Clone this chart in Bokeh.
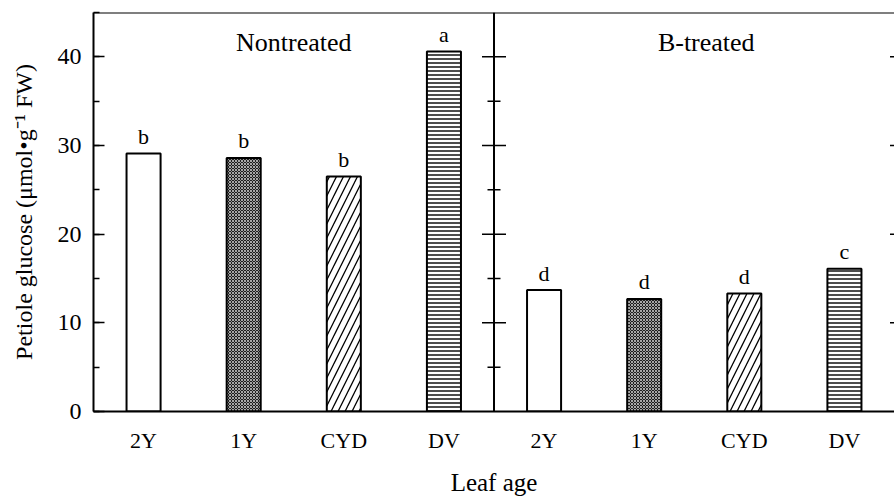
from bokeh.plotting import figure
from bokeh.models import (FactorRange, Range1d, SingleIntervalTicker,
                          Span, ColumnDataSource)
from bokeh.core.properties import value
from bokeh.embed import file_html
from bokeh.resources import INLINE

# ---- data ----
treatments = ["Nontreated", "B-treated"]
leaf_ages = ["2Y", "1Y", "CYD", "DV"]
nontreated = [29.1, 28.6, 26.5, 40.6]
b_treated = [13.7, 12.7, 13.3, 16.1]
letters_nontreated = ["b", "b", "b", "a"]
letters_b_treated = ["d", "d", "d", "c"]
y_ticks = [0, 10, 20, 30, 40]
y_minor_ticks = [5, 15, 25, 35]

FONT = "Liberation Serif"

factors = [(t, a) for t in treatments for a in leaf_ages]
values = nontreated + b_treated
letters = letters_nontreated + letters_b_treated
ages = leaf_ages * len(treatments)

src = ColumnDataSource(dict(x=factors, top=values, letter=letters, age=ages))

p = figure(width=894, height=498,
           x_range=FactorRange(*factors, range_padding=0, group_padding=0,
                               factor_padding=0, subgroup_padding=0),
           y_range=Range1d(0, 45),
           output_backend="svg", toolbar_location=None,
           min_border_left=93, min_border_right=0,
           min_border_top=12, min_border_bottom=87)

p.outline_line_color = None
p.xgrid.visible = False
p.ygrid.visible = False
p.background_fill_color = "white"
p.border_fill_color = "white"

# synthetic x coordinates of the panel divider and the right frame edge
n_per_panel = len(leaf_ages)
divider_x = float(n_per_panel)
right_x = float(n_per_panel * len(treatments))
title_x = [n_per_panel / 2, n_per_panel * 1.5]

# bar styles per leaf age
styles = {
    "2Y": dict(fill_color="white"),
    "1Y": dict(fill_color="#1e1e1e", hatch_pattern="diagonal_cross",
               hatch_color="#a8a8a8", hatch_scale=3, hatch_weight=1),
    "CYD": dict(fill_color="white", hatch_pattern="right_diagonal_line",
                hatch_color="black", hatch_scale=14, hatch_weight=1.3),
    "DV": dict(fill_color="white", hatch_pattern="horizontal_line",
               hatch_color="black", hatch_scale=4, hatch_weight=1.4),
}
for age in leaf_ages:
    idx = [i for i, a in enumerate(ages) if a == age]
    s = ColumnDataSource(dict(x=[factors[i] for i in idx],
                              top=[values[i] for i in idx]))
    p.vbar(x="x", top="top", width=0.34, source=s, line_color="black",
           line_width=2, **styles[age])

# significance letters
p.text(x="x", y="top", text="letter", source=src, text_align="center",
       text_baseline="alphabetic", y_offset=-17, text_font=value(FONT),
       text_font_size="22px", text_color="black")

# panel titles
p.text(x=title_x, y=[40.6, 40.6], text=treatments,
       text_align="center", text_baseline="alphabetic",
       x_offset=[0, 12], y_offset=-9,
       text_font=value(FONT), text_font_size="26px", text_color="black")

# top border and panel divider
p.add_layout(Span(location=45, dimension="width", line_color="black", line_width=2))
p.add_layout(Span(location=divider_x, dimension="height", line_color="black", line_width=2))
# ticks on divider
p.scatter(x=[divider_x] * (len(y_ticks) - 1), y=y_ticks[1:], marker="dash", size=24,
          line_color="black", line_width=1.5)
p.scatter(x=[divider_x] * len(y_minor_ticks), y=y_minor_ticks, marker="dash", size=13,
          line_color="black", line_width=1.5)
# ticks of right frame edge
p.scatter(x=[right_x] * (len(y_ticks) - 1), y=y_ticks[1:], marker="dash", size=9,
          line_color="black", line_width=1.5)

# y axis
ya = p.yaxis[0]
ya.ticker = SingleIntervalTicker(interval=10, num_minor_ticks=2)
ya.major_tick_in = 11
ya.major_tick_out = 0
ya.minor_tick_in = 6
ya.minor_tick_out = 0
ya.major_tick_line_width = 1.5
ya.minor_tick_line_width = 1.5
ya.axis_line_width = 2
ya.major_label_text_font = FONT
ya.major_label_text_font_size = "24px"
ya.major_label_text_color = "black"
ya.major_label_standoff = 12
ya.axis_label = "Petiole glucose (μmol•g⁻¹ FW)"
ya.axis_label_text_font = FONT
ya.axis_label_text_font_size = "24px"
ya.axis_label_text_font_style = "normal"
ya.axis_label_text_color = "black"
ya.axis_label_standoff = 18

# x axis
xa = p.xaxis[0]
xa.axis_line_width = 2
xa.major_tick_line_color = None
xa.minor_tick_line_color = None
xa.major_tick_in = 0
xa.major_tick_out = 0
xa.major_label_text_font = FONT
xa.major_label_text_font_size = "22px"
xa.major_label_text_color = "black"
xa.major_label_standoff = 16
xa.group_text_font_size = "1px"
xa.group_text_color = None
xa.separator_line_color = None
xa.axis_label = "Leaf age"
xa.axis_label_text_font = FONT
xa.axis_label_text_font_size = "25px"
xa.axis_label_text_font_style = "normal"
xa.axis_label_text_color = "black"
xa.axis_label_standoff = 13

open("out.html", "w").write(file_html(p, INLINE))
